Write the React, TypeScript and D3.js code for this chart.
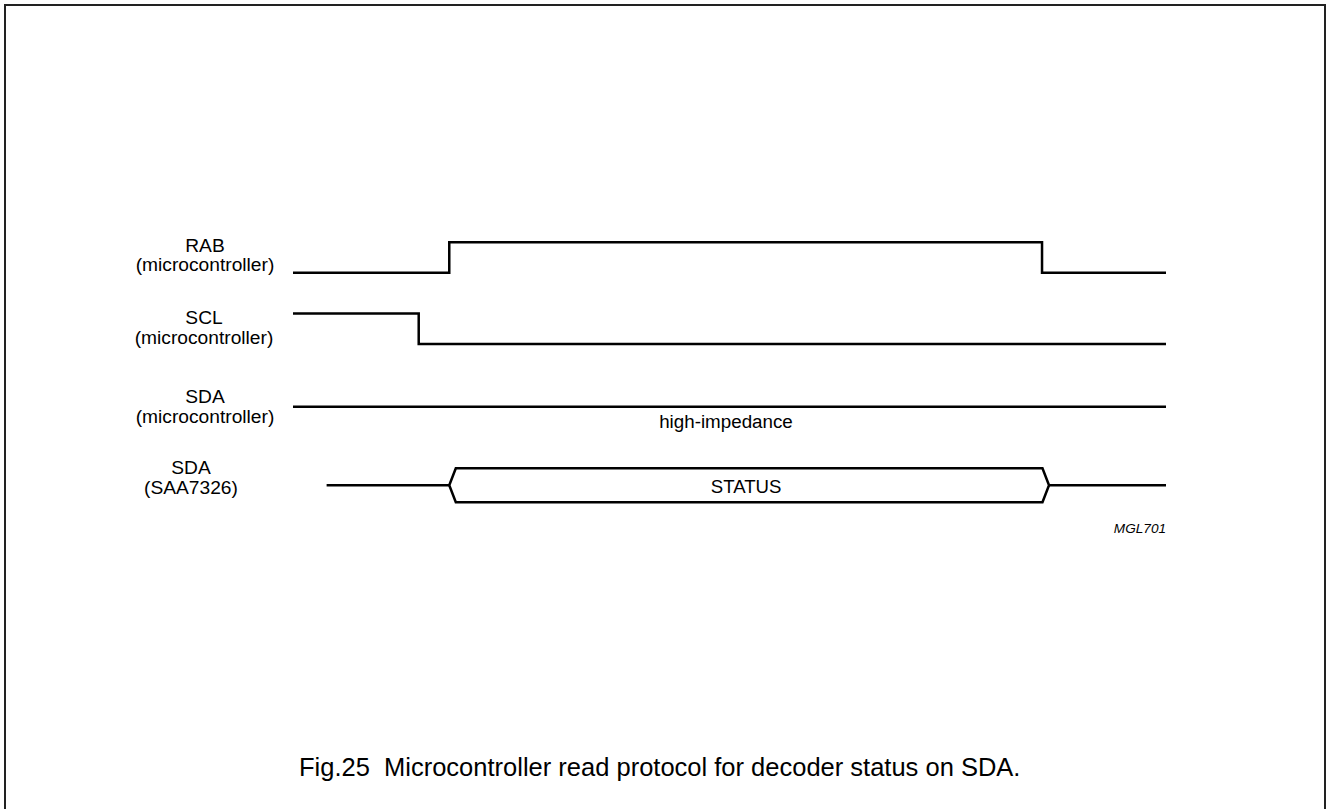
import React, { useEffect, useRef } from "react";
import * as d3 from "d3";

// signal rows (name / source)
const signalNames = ["RAB", "SCL", "SDA", "SDA"];
const signalSources = ["(microcontroller)", "(microcontroller)", "(microcontroller)", "(SAA7326)"];

// steps as [time, level]; time runs 0..100, level 0 = low, 1 = high, 0.5 = high-Z
const rabSteps = [[0, 0], [17.9, 1], [85.8, 0], [100, 0]];
const sclSteps = [[0, 1], [14.4, 0], [100, 0]];
const sdaMicroSteps = [[0, 0.5], [100, 0.5]];

// SAA7326 data bus: idle start, bus valid from..to, end
const busIdleStart = 3.85;
const busValidFrom = 17.9;
const busValidTo = 86.6;
const busEnd = 100;

const hiZLabel = "high-impedance";
const busLabel = "STATUS";
const figureId = "MGL701";
const caption = "Fig.25  Microcontroller read protocol for decoder status on SDA.";

export default function App() {
  const svgRef = useRef(null);
  const width = 1326;
  const height = 809;

  useEffect(() => {
    const svg = d3.select(svgRef.current);
    svg.selectAll("*").remove();

    const font = "Arial, 'Liberation Sans', Helvetica, sans-serif";

    // frame
    svg
      .append("rect")
      .attr("x", 5)
      .attr("y", 5)
      .attr("width", 1320)
      .attr("height", 830)
      .attr("fill", "none")
      .attr("stroke", "#222")
      .attr("stroke-width", 2);

    // Scales
    const x = d3.scaleLinear().domain([0, 100]).range([293, 1166]);
    const level = d3.scaleLinear().domain([0, 1]).range([15.25, -15.25]);
    const rowCenter = [257.5, 328.7, 406.7, 485.3];
    const labelBaseline = [251.7, 324.3, 403.3, 474];
    const labelCenter = [205, 204, 205, 191];

    const g = svg.append("g");

    const stepLine = (row) =>
      d3
        .line()
        .x((d) => x(d[0]))
        .y((d) => rowCenter[row] + level(d[1]))
        .curve(d3.curveStepAfter);

    [rabSteps, sclSteps, sdaMicroSteps].forEach((steps, i) => {
      g.append("path")
        .datum(steps)
        .attr("fill", "none")
        .attr("stroke", "#000")
        .attr("stroke-width", 2.5)
        .attr("stroke-linejoin", "miter")
        .attr("d", stepLine(i));
    });

    // Bus (SDA SAA7326)
    const busRow = 3;
    const edge = 0.75;
    const busHalf = 17;
    const bx = (t) => x(t);
    const by = (off) => rowCenter[busRow] + off;
    const straight = d3.line().x((d) => d[0]).y((d) => d[1]);

    g.append("path")
      .attr("fill", "none")
      .attr("stroke", "#000")
      .attr("stroke-width", 2.5)
      .attr(
        "d",
        straight([
          [bx(busIdleStart), by(0)],
          [bx(busValidFrom), by(0)],
        ])
      );
    g.append("path")
      .attr("fill", "none")
      .attr("stroke", "#000")
      .attr("stroke-width", 2.5)
      .attr(
        "d",
        straight([
          [bx(busValidTo), by(0)],
          [bx(busEnd), by(0)],
        ])
      );
    g.append("path")
      .attr("fill", "none")
      .attr("stroke", "#000")
      .attr("stroke-width", 2.5)
      .attr("stroke-linejoin", "miter")
      .attr(
        "d",
        straight([
          [bx(busValidFrom), by(0)],
          [bx(busValidFrom + edge), by(-busHalf)],
          [bx(busValidTo - edge), by(-busHalf)],
          [bx(busValidTo), by(0)],
          [bx(busValidTo - edge), by(busHalf)],
          [bx(busValidFrom + edge), by(busHalf)],
        ]) + "Z"
      );

    // Labels
    const labelSize = 19.2;
    signalNames.forEach((name, i) => {
      const t = g
        .append("text")
        .attr("text-anchor", "middle")
        .style("font-family", font)
        .style("font-size", `${labelSize}px`)
        .attr("fill", "#000");
      t.append("tspan").attr("x", labelCenter[i]).attr("y", labelBaseline[i]).text(name);
      t.append("tspan")
        .attr("x", labelCenter[i])
        .attr("y", labelBaseline[i] + 19.5)
        .text(signalSources[i]);
    });

    g.append("text")
      .attr("x", x(49.6))
      .attr("y", 428)
      .attr("text-anchor", "middle")
      .style("font-family", font)
      .style("font-size", "18.8px")
      .text(hiZLabel);

    g.append("text")
      .attr("x", (bx(busValidFrom) + bx(busValidTo)) / 2 - 3)
      .attr("y", 492.7)
      .attr("text-anchor", "middle")
      .style("font-family", font)
      .style("font-size", "18.6px")
      .text(busLabel);

    g.append("text")
      .attr("x", x(100))
      .attr("y", 532.7)
      .attr("text-anchor", "end")
      .style("font-family", font)
      .style("font-size", "13.6px")
      .style("font-style", "italic")
      .text(figureId);

    svg
      .append("text")
      .attr("x", 299)
      .attr("y", 776)
      .style("font-family", font)
      .style("font-size", "25.5px")
      .attr("xml:space", "preserve")
      .style("white-space", "pre")
      .text(caption);
  }, []);

  return (
    <svg
      ref={svgRef}
      width={width}
      height={height}
      style={{ position: "absolute", left: 0, top: 0, background: "#fff" }}
    ></svg>
  );
}
